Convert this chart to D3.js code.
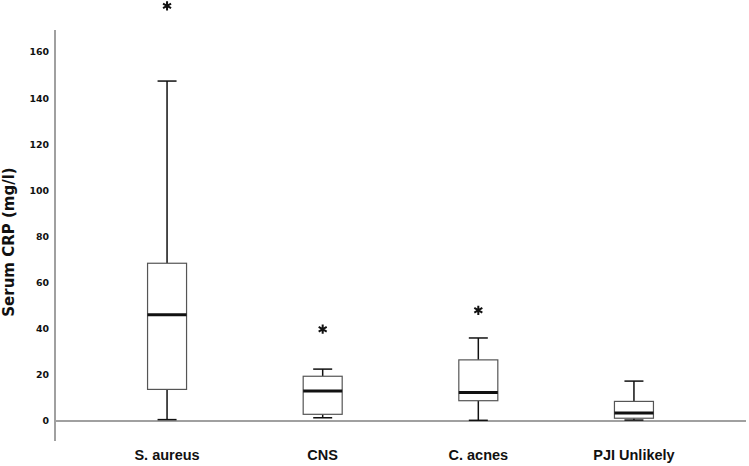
<!DOCTYPE html>
<html><head><meta charset="utf-8">
<script src="https://cdn.jsdelivr.net/npm/d3@7"></script>
<style>body{margin:0;background:#fff}svg{display:block}</style>
</head><body>
<script>
const categories = ["S. aureus", "CNS", "C. acnes", "PJI Unlikely"];
const whiskerLow  = [0.6, 1.4, 0.3, 0.4];
const q1          = [13.7, 2.9, 8.8, 1.2];
const median      = [46.1, 13.0, 12.4, 3.5];
const q3          = [68.4, 19.4, 26.5, 8.5];
const whiskerHigh = [147.4, 22.5, 36.0, 17.3];
const outliers    = [[180], [39.8], [48], []];
const yTicks = [0, 20, 40, 60, 80, 100, 120, 140, 160];

const W = 749, H = 466;
const svg = d3.select("body").append("svg").attr("width", W).attr("height", H);

const y = d3.scaleLinear().domain([0, 160]).range([421, 52]);
const x = d3.scalePoint().domain(categories).range([55, 746]).padding(0.72);

// axes lines
svg.append("line").attr("x1", 55).attr("x2", 55).attr("y1", 30).attr("y2", 441)
  .attr("stroke", "#a0a0a0").attr("stroke-width", 2);
svg.append("line").attr("x1", 55).attr("x2", 746).attr("y1", y(0)).attr("y2", y(0))
  .attr("stroke", "#a0a0a0").attr("stroke-width", 2);

// y tick labels
svg.selectAll("text.yt").data(yTicks).enter().append("text")
  .attr("class", "yt").attr("x", 49).attr("y", d => y(d) + 3.4)
  .attr("text-anchor", "end").attr("font-family", "DejaVu Sans").attr("font-weight", "bold")
  .attr("font-size", 9.4).attr("fill", "#111").text(d => d);

// y title
svg.append("text").attr("transform", "translate(13.5," + 242 + ") rotate(-90)")
  .attr("text-anchor", "middle").attr("font-family", "DejaVu Sans").attr("font-weight", "bold")
  .attr("font-size", 15).attr("fill", "#111").text("Serum CRP (mg/l)");

// category labels
svg.selectAll("text.xt").data(categories).enter().append("text")
  .attr("class", "xt").attr("x", d => x(d)).attr("y", 460)
  .attr("text-anchor", "middle").attr("font-family", "Liberation Sans").attr("font-weight", "bold")
  .attr("font-size", 14.5).attr("fill", "#111").text(d => d);

const bw = 19.5, cw = 9.5;
const g = svg.selectAll("g.box").data(categories).enter().append("g").attr("class", "box");
// whiskers
g.append("line").attr("x1", d => x(d)).attr("x2", d => x(d))
  .attr("y1", (d, i) => y(q3[i])).attr("y2", (d, i) => y(whiskerHigh[i]))
  .attr("stroke", "#111").attr("stroke-width", 1.5);
g.append("line").attr("x1", d => x(d)).attr("x2", d => x(d))
  .attr("y1", (d, i) => y(q1[i])).attr("y2", (d, i) => y(whiskerLow[i]))
  .attr("stroke", "#111").attr("stroke-width", 1.5);
// caps
g.append("line").attr("x1", d => x(d) - cw).attr("x2", d => x(d) + cw)
  .attr("y1", (d, i) => y(whiskerHigh[i])).attr("y2", (d, i) => y(whiskerHigh[i]))
  .attr("stroke", "#111").attr("stroke-width", 1.5);
g.append("line").attr("x1", d => x(d) - cw).attr("x2", d => x(d) + cw)
  .attr("y1", (d, i) => y(whiskerLow[i])).attr("y2", (d, i) => y(whiskerLow[i]))
  .attr("stroke", "#111").attr("stroke-width", 1.5);
// box
g.append("rect").attr("x", d => x(d) - bw).attr("width", bw * 2)
  .attr("y", (d, i) => y(q3[i])).attr("height", (d, i) => y(q1[i]) - y(q3[i]))
  .attr("fill", "#fff").attr("stroke", "#555").attr("stroke-width", 1.2);
// median
g.append("line").attr("x1", d => x(d) - bw).attr("x2", d => x(d) + bw)
  .attr("y1", (d, i) => y(median[i])).attr("y2", (d, i) => y(median[i]))
  .attr("stroke", "#111").attr("stroke-width", 3);
// outliers
const sym = d3.symbol().type(d3.symbolAsterisk).size(60);
categories.forEach((c, i) => {
  svg.selectAll(null).data(outliers[i]).enter().append("path")
    .attr("d", sym).attr("transform", d => "translate(" + x(c) + "," + y(d) + ")")
    .attr("fill", "none").attr("stroke", "#111").attr("stroke-width", 2);
});
</script>
</body></html>
